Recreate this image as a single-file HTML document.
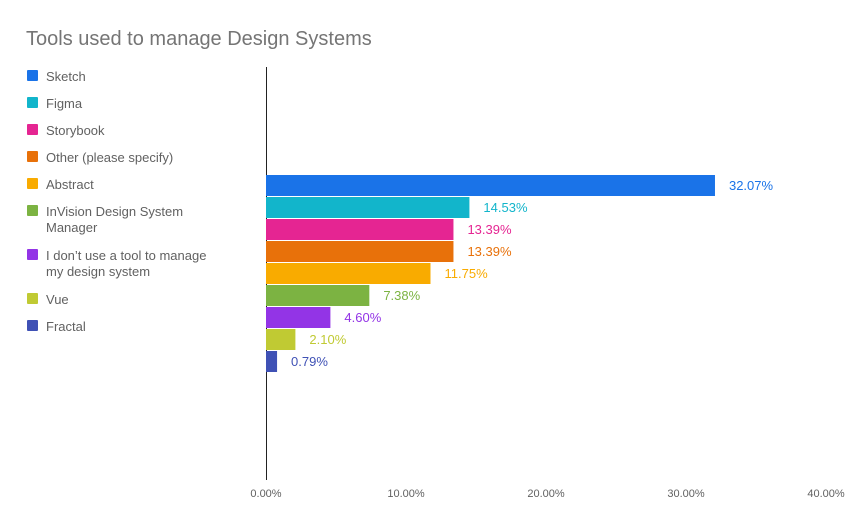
<!DOCTYPE html>
<html><head><meta charset="utf-8"><style>
body{margin:0;background:#fff;font-family:"Liberation Sans",Arial,sans-serif}
svg text{font-family:"Liberation Sans",Arial,sans-serif}
</style></head><body>
<svg id="chart" width="852" height="527" xmlns="http://www.w3.org/2000/svg">
<rect width="852" height="527" fill="#fff"/>
<text x="26" y="45" font-size="20" fill="#757575">Tools used to manage Design Systems</text>
<g id="legend"></g>
<g id="axis"></g>
<g id="bars"></g>
</svg>
<script>
const categories=["Sketch","Figma","Storybook","Other (please specify)","Abstract","InVision Design System Manager","I don't use a tool to manage my design system","Vue","Fractal"];
const legendLines=[["Sketch"],["Figma"],["Storybook"],["Other (please specify)"],["Abstract"],["InVision Design System","Manager"],["I don’t use a tool to manage","my design system"],["Vue"],["Fractal"]];
const values=[32.07,14.53,13.39,13.39,11.75,7.38,4.60,2.10,0.79];
const colors=["#1a73e8","#12b5cb","#e52592","#e8710a","#f9ab00","#7cb342","#9334e6","#c0ca33","#3f51b5"];
const ticks=[0,10,20,30,40];
const NS="http://www.w3.org/2000/svg";
const x0=266,pxPer=14;
function xs(v){return x0+v*pxPer;}
function ys(i){return 175+i*22;}
function mk(t,a,p){const e=document.createElementNS(NS,t);for(const k in a)e.setAttribute(k,a[k]);p.appendChild(e);return e;}
const axis=document.getElementById('axis'),bars=document.getElementById('bars'),legend=document.getElementById('legend');
values.forEach((v,i)=>{
const r=mk('rect',{x:x0,y:ys(i),width:xs(v)-x0,height:21,fill:colors[i]},bars);


const l=mk('text',{x:xs(v)+14,y:ys(i)+15,'font-size':13,fill:colors[i]},bars);l.textContent=v.toFixed(2)+'%';


});
const ax=mk('line',{x1:x0+0.5,x2:x0+0.5,y1:67,y2:480,stroke:'#222','stroke-width':1},axis);


ticks.forEach(t=>{const tx=mk('text',{x:xs(t),y:497,'font-size':11,fill:'#616161','text-anchor':'middle'},axis);tx.textContent=t.toFixed(2)+'%';

});
const legY=[76,103,130,157,184,211,255,299,326];
legendLines.forEach((lines,i)=>{
const g=mk('g',{},legend);


mk('rect',{x:27,y:legY[i]-6,width:11,height:11,rx:1,fill:colors[i]},g);
lines.forEach((s,j)=>{const t=mk('text',{x:46,y:legY[i]+5+j*16,'font-size':13,fill:'#616161'},g);t.textContent=s;});
});
</script>
</body></html>
